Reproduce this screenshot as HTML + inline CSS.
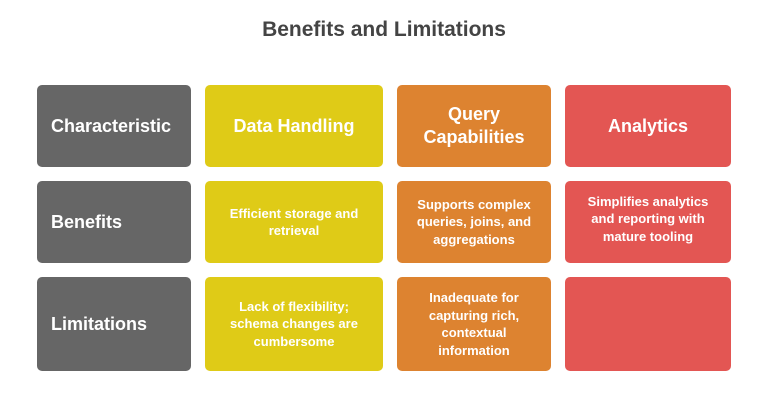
<!DOCTYPE html>
<html><head><style>
body{margin:0;width:768px;height:414px;background:#fff;font-family:"Liberation Sans",sans-serif;position:relative;overflow:hidden}
.t{position:absolute;top:18px;left:0;width:768px;text-align:center;font-size:21px;font-weight:bold;color:#444}
.b{position:absolute;border-radius:5px;color:#fff;font-weight:bold;display:flex;align-items:center;justify-content:center;text-align:center;box-sizing:border-box;padding:0 6px}
.g{background:#666;left:37px;width:154px;justify-content:flex-start;padding-left:14px;font-size:18px}
.y{background:#dfcb17;left:205px;width:178px}
.o{background:#dd8330;left:397px;width:154px}
.r{background:#e35653;left:565px;width:166px}
.h{font-size:18px;line-height:23px}
.s{font-size:13px;line-height:17.5px}
.r1{top:85px;height:82px}.r2{top:181px;height:82px}.r3{top:277px;height:94px}
</style></head><body>
<div class="t">Benefits and Limitations</div>
<div class="b g r1">Characteristic</div>
<div class="b y r1 h">Data Handling</div>
<div class="b o r1 h">Query<br>Capabilities</div>
<div class="b r r1 h">Analytics</div>
<div class="b g r2">Benefits</div>
<div class="b y r2 s">Efficient storage and<br>retrieval</div>
<div class="b o r2 s">Supports complex<br>queries, joins, and<br>aggregations</div>
<div class="b r r2 s" style="padding-bottom:6px">Simplifies analytics<br>and reporting with<br>mature tooling</div>
<div class="b g r3">Limitations</div>
<div class="b y r3 s">Lack of flexibility;<br>schema changes are<br>cumbersome</div>
<div class="b o r3 s">Inadequate for<br>capturing rich,<br>contextual<br>information</div>
<div class="b r r3"></div>
</body></html>
